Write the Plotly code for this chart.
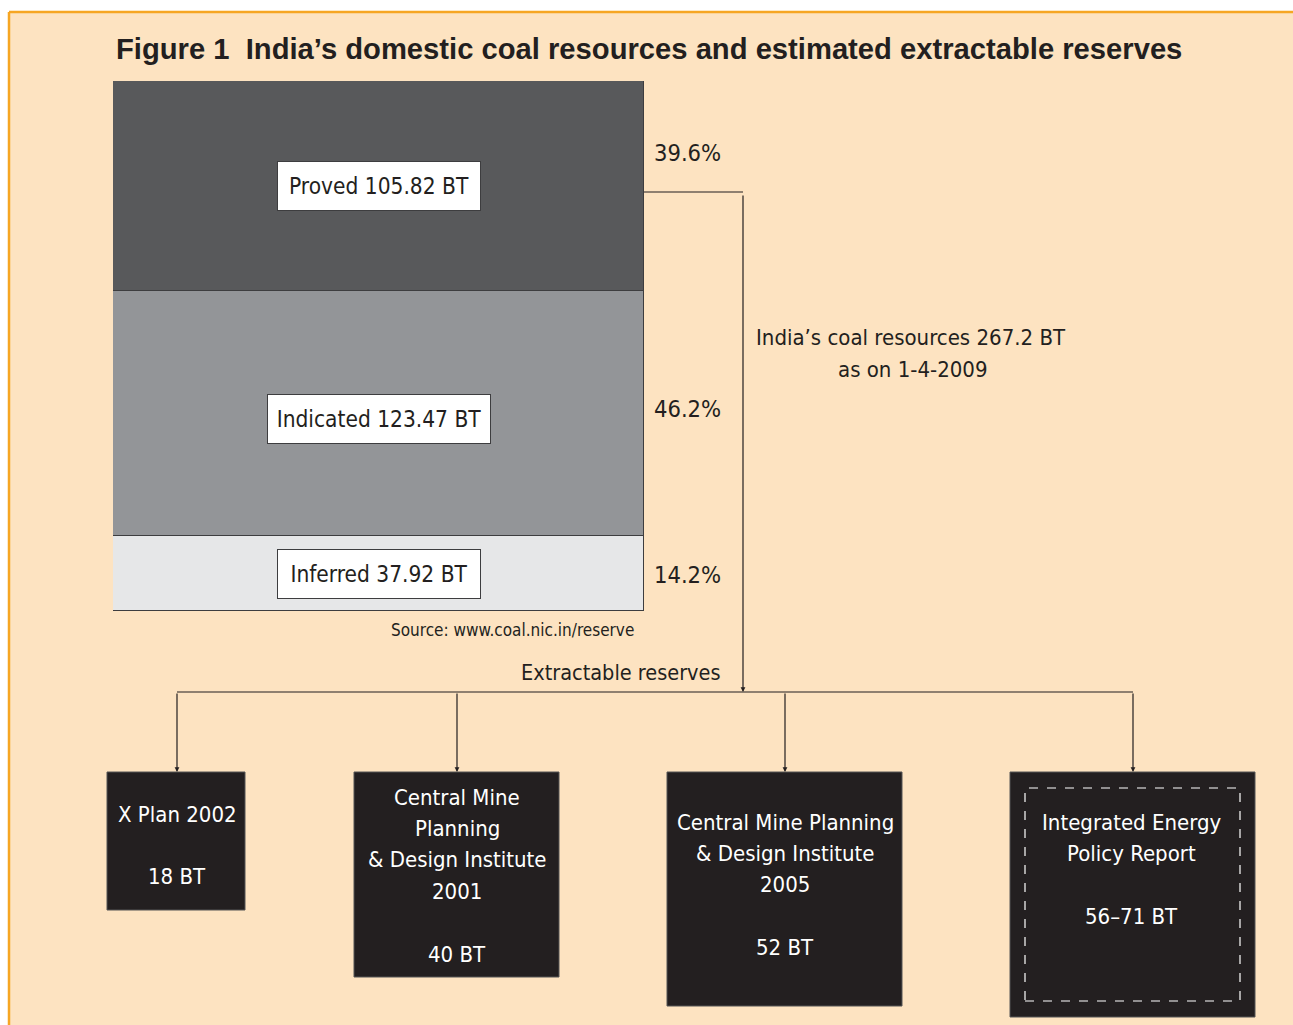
import plotly.graph_objects as go

W, H = 1293, 1025

BG_PAGE  = "#ffffff"
BG_PANEL = "#fde3c1"
ORANGE   = "#f6a623"
INK      = "#231f20"
NARROW   = "DejaVu Sans Condensed, Liberation Sans Narrow, sans-serif"
BOLD     = "Liberation Sans, Arial, sans-serif"

# resource categories, bottom to top of the stacked bar
categories = ["Inferred", "Indicated", "Proved"]
values_bt  = [37.92, 123.47, 105.82]
seg_colors = ["#e6e7e8", "#939598", "#58595b"]
total_bt   = 267.2

# extractable reserve estimates, one list of lines per box ("" = blank line)
sources = [
    ["X Plan 2002", "", "18 BT"],
    ["Central Mine", "Planning", "& Design Institute", "2001", "", "40 BT"],
    ["Central Mine Planning", "& Design Institute", "2005", "", "52 BT"],
    ["Integrated Energy", "Policy Report", "", "56–71 BT"],
]


def px(x):
    return x / W


def py(y):
    return 1 - y / H


fig = go.Figure()

for cat, val, col in zip(categories, values_bt, seg_colors):
    fig.add_trace(go.Bar(
        x=[0], y=[val], name=cat,
        marker=dict(color=col, line=dict(color="#3d3d3f", width=1.2)),
        width=1, hoverinfo="skip",
    ))

shapes = [
    # beige panel with orange top / left rule
    dict(type="rect", xref="paper", yref="paper", x0=px(8), x1=1, y0=0, y1=py(12),
         fillcolor=BG_PANEL, line_width=0, layer="below"),
    dict(type="line", xref="paper", yref="paper", x0=px(9), x1=1, y0=py(12), y1=py(12),
         line=dict(color=ORANGE, width=2.5)),
    dict(type="line", xref="paper", yref="paper", x0=px(9), x1=px(9), y0=0, y1=py(12),
         line=dict(color=ORANGE, width=2.5)),
    # connector from the bar to the reserves row
    dict(type="line", xref="paper", yref="paper", x0=px(644), x1=px(743), y0=py(192), y1=py(192),
         line=dict(color=INK, width=1.2)),
    dict(type="line", xref="paper", yref="paper", x0=px(177), x1=px(1133), y0=py(692), y1=py(692),
         line=dict(color=INK, width=1.2)),
]

# black source boxes: (x0, x1, y0, y1) in pixels
boxes = [(107, 245, 772, 910), (354, 559, 772, 977), (667, 902, 772, 1006), (1010, 1255, 772, 1017)]
drops = [177, 457, 785, 1133]
for (x0, x1, y0, y1) in boxes:
    shapes.append(dict(type="rect", xref="paper", yref="paper", x0=px(x0), x1=px(x1),
                       y0=py(y1), y1=py(y0), fillcolor=INK, line=dict(color="#555", width=1)))
shapes.append(dict(type="rect", xref="paper", yref="paper", x0=px(1025), x1=px(1240),
                   y0=py(1001), y1=py(788), line=dict(color="white", width=1.2, dash="dash")))

ann = [
    dict(text="<b>Figure 1  India’s domestic coal resources and estimated extractable reserves</b>",
         x=px(114), y=py(49), xanchor="left", yanchor="middle",
         font=dict(family=BOLD, size=29.2, color=INK)),
    dict(text="Source: www.coal.nic.in/reserve", x=px(636), y=py(630), xanchor="right",
         yanchor="middle", font=dict(family=NARROW, size=17, color=INK)),
    dict(text="Extractable reserves", x=px(723), y=py(672), xanchor="right", yanchor="middle",
         font=dict(family=NARROW, size=21.5, color=INK)),
    dict(text="India’s coal resources 267.2 BT", x=px(911), y=py(337),
         xanchor="center", yanchor="middle", font=dict(family=NARROW, size=22, color=INK)),
    dict(text="as on 1-4-2009", x=px(913), y=py(369),
         xanchor="center", yanchor="middle", font=dict(family=NARROW, size=22, color=INK)),
]
for a in ann:
    a.update(xref="paper", yref="paper", showarrow=False)

# segment labels and percentage shares, placed on the bar's own scale
base = 0
pct_shift = [-2, 4, 33]
box_w = [202, 222, 202]
box_shift = [-1, -6, 0]
for i, (cat, val) in enumerate(zip(categories, values_bt)):
    mid = base + val / 2
    base += val
    ann.append(dict(text=f"{cat} {val:.2f} BT", x=0, y=mid, xref="x", yref="y",
                    xanchor="center", yanchor="middle",
                    showarrow=False, bgcolor="white", bordercolor="#3d3d3f", borderwidth=1,
                    width=box_w[i], height=48, borderpad=0, yshift=box_shift[i],
                    font=dict(family=NARROW, size=22.5, color=INK)))
    ann.append(dict(text=f"{val / sum(values_bt) * 100:.1f}%", x=px(652), xref="paper",
                    y=mid, yref="y", xanchor="left", yanchor="middle", showarrow=False,
                    yshift=pct_shift[i], font=dict(family=NARROW, size=23.5, color=INK)))

# arrows
ann.append(dict(x=px(743), y=py(692), xref="paper", yref="paper", ax=0, ay=-498,
                showarrow=True, arrowhead=2, arrowsize=0.8, arrowwidth=1.2, arrowcolor=INK, text=""))
for xd in drops:
    ann.append(dict(x=px(xd), y=py(772), xref="paper", yref="paper", ax=0, ay=-80,
                    showarrow=True, arrowhead=2, arrowsize=0.8, arrowwidth=1.2, arrowcolor=INK, text=""))

# box texts, one annotation per line
line_gap = 31.4
text_starts = [(177, 814), (457, 797), (785, 822), (1131, 822)]
for lines, (cx, cy) in zip(sources, text_starts):
    for j, line in enumerate(lines):
        if not line:
            continue
        ann.append(dict(text=line, x=px(cx), y=py(cy + j * line_gap), xref="paper", yref="paper",
                        xanchor="center", yanchor="middle", showarrow=False,
                        font=dict(family=NARROW, size=22, color="white")))

fig.update_layout(
    width=W, height=H,
    barmode="stack", bargap=0, showlegend=False,
    paper_bgcolor=BG_PAGE, plot_bgcolor="rgba(0,0,0,0)",
    margin=dict(l=0, r=0, t=0, b=0),
    xaxis=dict(domain=[px(113), px(644)], range=[-0.5, 0.5], visible=False, fixedrange=True),
    yaxis=dict(domain=[py(611), py(81)], range=[0, total_bt], visible=False, fixedrange=True),
    shapes=shapes, annotations=ann,
)

fig.write_html("out.html", config={"displayModeBar": False},
               post_script="document.body.style.margin='0';document.body.style.overflow='hidden';")
